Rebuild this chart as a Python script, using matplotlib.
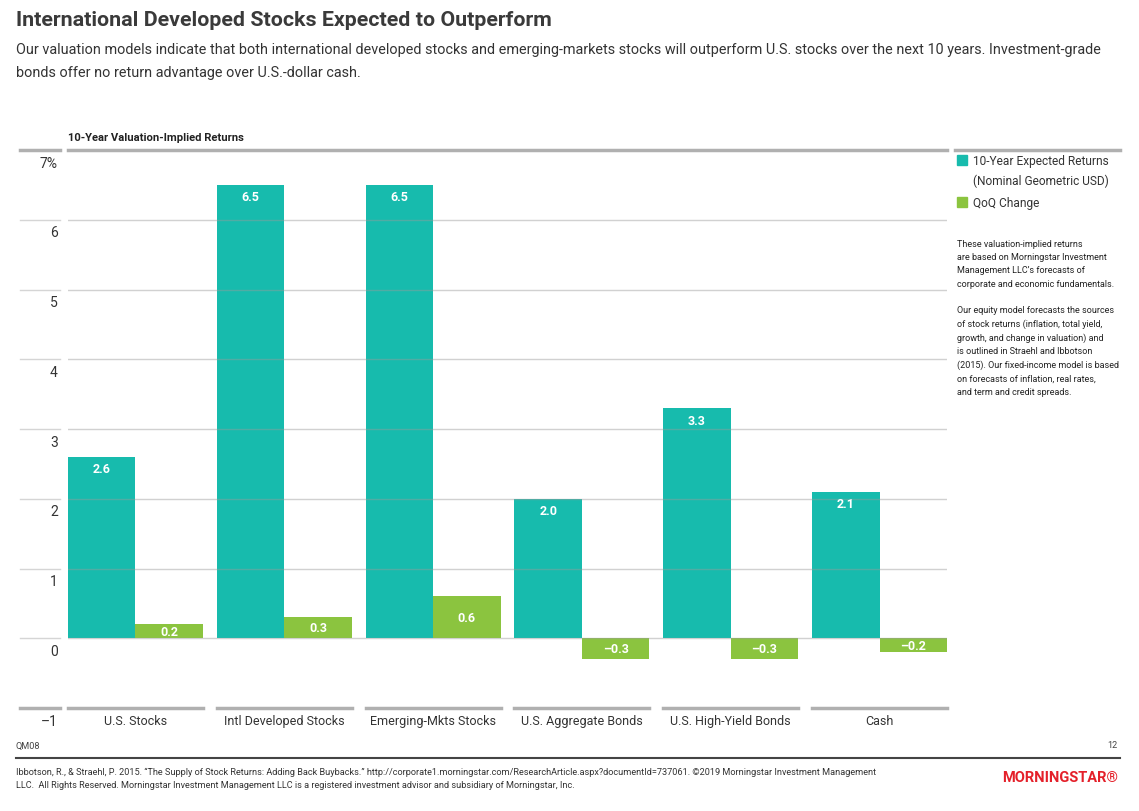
import matplotlib
matplotlib.use("Agg")
from matplotlib import pyplot as plt
from matplotlib.lines import Line2D
import numpy as np

plt.rcParams['font.family'] = ['Roboto', 'DejaVu Sans']

# Data
categories = ["U.S. Stocks", "Intl Developed Stocks", "Emerging-Mkts Stocks",
              "U.S. Aggregate Bonds", "U.S. High-Yield Bonds", "Cash"]
expected_returns = [2.6, 6.5, 6.5, 2.0, 3.3, 2.1]
qoq_change = [0.2, 0.3, 0.6, -0.3, -0.3, -0.2]
y_ticks = [-1, 0, 1, 2, 3, 4, 5, 6, 7]
y_tick_labels = ["\u20131", "0", "1", "2", "3", "4", "5", "6", "7%"]

teal = "#17BBAD"
green = "#8BC43F"
txt = "#333333"
W, H = 1139, 812

fig = plt.figure(figsize=(W / 100, H / 100), dpi=100)

def fx(px):
    return px / W

def fy(py):
    return 1 - py / H

# Titles
fig.text(fx(16), fy(20), "International Developed Stocks Expected to Outperform",
         fontsize=15.4, fontweight="bold", color="#3a3a3a", va="center", ha="left")
fig.text(fx(16), fy(50), "Our valuation models indicate that both international developed stocks and "
         "emerging-markets stocks will outperform U.S. stocks over the next 10 years. Investment-grade",
         fontsize=10.4, color=txt, va="center", ha="left")
fig.text(fx(16), fy(73), "bonds offer no return advantage over U.S.-dollar cash.",
         fontsize=10.4, color=txt, va="center", ha="left")
fig.text(fx(68), fy(138), "10-Year Valuation-Implied Returns",
         fontsize=8.1, fontweight="bold", color="#222222", va="center", ha="left")

# Chart axes
ax = fig.add_axes([fx(68), fy(709), fx(947) - fx(68), fy(151) - fy(709)])
x = np.arange(len(categories))
bw = 0.453
ax.bar(x - bw / 2, expected_returns, width=bw, color=teal, zorder=2)
ax.bar(x + bw / 2, qoq_change, width=bw, color=green, zorder=2)
ax.set_xlim(-bw, len(categories) - 1 + bw)
ax.set_ylim(-1, 7)
for s in ax.spines.values():
    s.set_visible(False)
ax.set_xticks([])
ax.set_yticks([])

# gridlines over bars
for t in range(0, 7):
    ax.axhline(t, color="#9a9a9a", lw=1, alpha=0.45, zorder=3)
ax.axhline(7, color="#b0b0b0", lw=2.5, zorder=3, clip_on=False)
shift_down = matplotlib.transforms.ScaledTranslation(0, -4 / 72, fig.dpi_scale_trans)
for i in x:
    ax.plot([i - bw, i + bw], [-1, -1], color="#b0b0b0", lw=2.5, clip_on=False, zorder=3)
    ax.text(i, -1, categories[i], ha="center", va="top", fontsize=9,
            color=txt, transform=ax.transData + shift_down)

# y axis labels area
trans = matplotlib.transforms.blended_transform_factory(ax.transAxes, ax.transData)
x0 = (20 - 68) / (947 - 68)
x1 = (60 - 68) / (947 - 68)
xl = (58 - 68) / (947 - 68)
for t, lab in zip(y_ticks, y_tick_labels):
    if t in (-1, 7):
        ax.plot([x0, x1], [t, t], transform=trans, color="#b0b0b0", lw=2.5, clip_on=False)
    else:
        ax.plot([x0, x1], [t, t], transform=trans, color="#d5d5d5", lw=1, clip_on=False)
    ax.annotate(lab, xy=(xl, t), xycoords=trans, xytext=(0, -4), textcoords="offset points",
                ha="right", va="top", fontsize=10, color=txt)

# value labels
for i in x:
    v = expected_returns[i]
    ax.annotate(f"{v:.1f}", xy=(i - bw / 2, v), xytext=(0, -4), textcoords="offset points",
                ha="center", va="top", fontsize=9, fontweight="bold", color="white", zorder=4)
    q = qoq_change[i]
    lab = f"{q:.1f}" if q >= 0 else "\u2013" + f"{abs(q):.1f}"
    ax.text(i + bw / 2, q / 2, lab, ha="center", va="center", fontsize=9,
            fontweight="bold", color="white", zorder=4)

# Legend
fig.add_artist(Line2D([fx(955), fx(1120)], [fy(151), fy(151)], color="#b0b0b0", lw=2.5))
legend_items = [(teal, 161, "10-Year Expected Returns"), (green, 203, "QoQ Change")]
for col, py, lab in legend_items:
    fig.patches.append(plt.Rectangle((fx(957), fy(py + 5)), fx(10), 10 / H, color=col,
                                     transform=fig.transFigure))
    fig.text(fx(973), fy(py), lab, fontsize=8.6, color=txt, va="center", ha="left")
fig.text(fx(973), fy(181), "(Nominal Geometric USD)", fontsize=8.6, color=txt, va="center", ha="left")

notes = ("These valuation-implied returns\nare based on Morningstar Investment\n"
         "Management LLC\u2019s forecasts of\ncorporate and economic fundamentals.\n\n"
         "Our equity model forecasts the sources\nof stock returns (inflation, total yield,\n"
         "growth, and change in valuation) and\nis outlined in Straehl and Ibbotson\n"
         "(2015). Our fixed-income model is based\non forecasts of inflation, real rates,\n"
         "and term and credit spreads.")
fig.text(fx(957), fy(240), notes, fontsize=6.5, color="#222222", va="top", ha="left",
         linespacing=1.6)

# Footer
fig.text(fx(16), fy(746), "QM08", fontsize=6.6, color="#444444", va="center", ha="left")
fig.text(fx(1118), fy(746), "12", fontsize=6.6, color="#444444", va="center", ha="right")
fig.add_artist(Line2D([fx(16), fx(1120)], [fy(759), fy(759)], color="#444444", lw=1.5))
fig.text(fx(16), fy(772), "Ibbotson, R., & Straehl, P. 2015. \u201cThe Supply of Stock Returns: Adding Back Buybacks.\u201d "
         "http://corporate1.morningstar.com/ResearchArticle.aspx?documentId=737061. \u00a92019 Morningstar Investment Management",
         fontsize=6.6, color="#333333", va="center", ha="left")
fig.text(fx(16), fy(786), "LLC.  All Rights Reserved. Morningstar Investment Management LLC is a registered investment advisor "
         "and subsidiary of Morningstar, Inc.", fontsize=6.6, color="#333333", va="center", ha="left")
fig.text(fx(1118), fy(778), "MORNINGSTAR\u00ae", fontsize=10.5, fontweight="bold", color="#E4202A",
         va="center", ha="right")

fig.savefig("out.png", dpi=100)
